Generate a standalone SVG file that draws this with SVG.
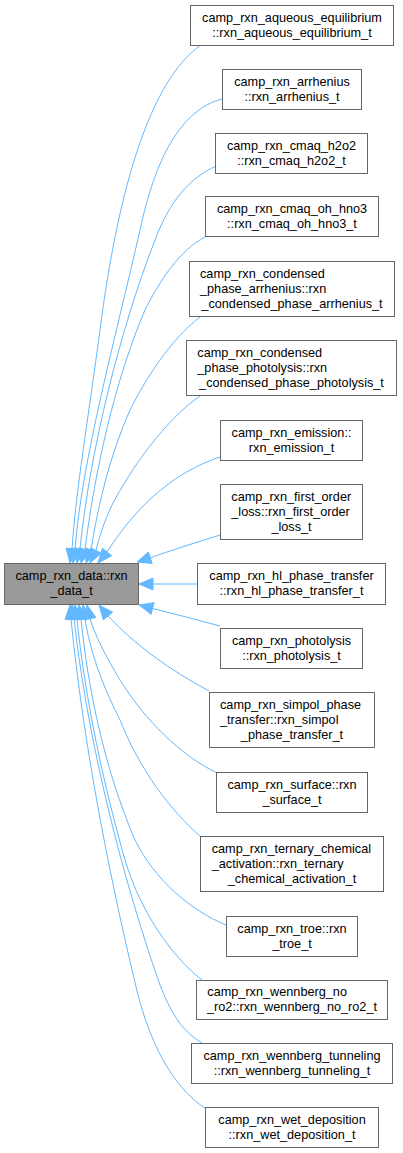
<svg xmlns="http://www.w3.org/2000/svg" width="403" height="1153" viewBox="0 0 403 1153">
<style>
.n rect{fill:#ffffff;stroke:#666666;stroke-width:1}
.n.main rect{fill:#999999}
.n text{font-family:"Liberation Sans",Arial,sans-serif;font-size:12.7px;fill:#000000}
.c{text-anchor:middle}
.e path{fill:none;stroke:#63b8ff;stroke-width:1}
.e polygon{fill:#63b8ff;stroke:#63b8ff;stroke-width:1}
</style>
<rect width="403" height="1153" fill="#ffffff"/>
<g id="edges" class="e">
<path d="M201,45 C150,80 118,190 100,330 C88,420 76,490 72,549"/>
<polygon points="70,563 77.9,549.8 66.1,548.2"/>
<path d="M222,99 C180,110 155,160 140,230 C115,340 82,460 75,549"/>
<polygon points="73,563 80.9,549.8 69.1,548.2"/>
<path d="M216,166 C190,178 170,200 155,240 C120,330 90,450 80,549"/>
<polygon points="77,563 85.9,550.3 74.1,547.7"/>
<path d="M205,237 C180,250 160,280 145,310 C115,380 95,470 85,549.5"/>
<polygon points="81,563 90.75,551.2 79.25,547.8"/>
<path d="M200,317 C170,340 145,380 130,410 C110,455 98,505 91,550"/>
<polygon points="86,563 96.6,552.15 85.4,547.85"/>
<path d="M200,396 C165,420 130,470 112,505 C104,522 99,538 96,550.5"/>
<polygon points="90,563 101.4,553.1 90.6,547.9"/>
<path d="M220,457 C180,470 140,500 107,552"/>
<polygon points="98,563 111.65,555.8 102.35,548.2"/>
<path d="M220,535 C195,543 172,550 150.3,557.7"/>
<polygon points="137,562 152.15,563.4 148.45,552"/>
<path d="M197,584 L153,584"/>
<polygon points="139,584 153,578 153,590"/>
<path d="M220,626 C198,620 175,614 152.6,608.5"/>
<polygon points="139,605 154.1,602.7 151.1,614.3"/>
<path d="M209,691 C170,670 135,645 108,616"/>
<polygon points="99,605 112.65,612.2 103.35,619.8"/>
<path d="M217,773 C180,755 145,720 120,680 C105,655 95,635 90,618.7"/>
<polygon points="87,605 95.9,617.4 84.1,620"/>
<path d="M201,837 C170,810 140,770 120,720 C100,680 90,650 85,619"/>
<polygon points="83,605 90.9,618.2 79.1,619.8"/>
<path d="M226,925 C190,910 155,880 135,840 C105,770 88,690 81,619"/>
<polygon points="79,605 86.9,618.2 75.1,619.8"/>
<path d="M202,980 C170,955 140,910 125,860 C105,790 85,700 77,619"/>
<polygon points="75,605 82.9,618.2 71.1,619.8"/>
<path d="M202,1043 C180,1030 170,1010 160,985 C130,900 90,760 74,619"/>
<polygon points="72,605 79.9,618.2 68.1,619.8"/>
<path d="M206,1109 C170,1085 150,1040 138,995 C115,900 85,760 71,619"/>
<polygon points="70,605 76.98,618.6 65.02,619.4"/>
</g>
<g id="node_aqueous" class="n"><rect x="190.5" y="5.5" width="203" height="40"/><text class="c" x="292" y="21.5">camp_rxn_aqueous_equilibrium</text><text class="c" x="292" y="36.5">::rxn_aqueous_equilibrium_t</text></g>
<g id="node_arrhenius" class="n"><rect x="222.5" y="69.5" width="139" height="40"/><text class="c" x="292" y="85.5">camp_rxn_arrhenius</text><text class="c" x="292" y="100.5">::rxn_arrhenius_t</text></g>
<g id="node_cmaq_h2o2" class="n"><rect x="215.5" y="133.5" width="152" height="40"/><text class="c" x="291.5" y="149.5">camp_rxn_cmaq_h2o2</text><text class="c" x="291.5" y="164.5">::rxn_cmaq_h2o2_t</text></g>
<g id="node_cmaq_oh_hno3" class="n"><rect x="205.5" y="196.5" width="173" height="40"/><text class="c" x="292" y="212.5">camp_rxn_cmaq_oh_hno3</text><text class="c" x="292" y="227.5">::rxn_cmaq_oh_hno3_t</text></g>
<g id="node_condensed_phase_arrhenius" class="n"><rect x="189.5" y="261.5" width="205" height="55"/><text x="200" y="277.5">camp_rxn_condensed</text><text x="200" y="292.5">_phase_arrhenius::rxn</text><text class="c" x="292" y="307.5">_condensed_phase_arrhenius_t</text></g>
<g id="node_condensed_phase_photolysis" class="n"><rect x="186.5" y="340.5" width="210" height="55"/><text x="197.3" y="356.5">camp_rxn_condensed</text><text x="197.3" y="371.5">_phase_photolysis::rxn</text><text class="c" x="291.5" y="386.5">_condensed_phase_photolysis_t</text></g>
<g id="node_emission" class="n"><rect x="220.5" y="420.5" width="142" height="40"/><text class="c" x="291.5" y="436.5">camp_rxn_emission::</text><text class="c" x="291.5" y="451.5">rxn_emission_t</text></g>
<g id="node_first_order_loss" class="n"><rect x="220.5" y="484.5" width="142" height="55"/><text x="231.3" y="500.5">camp_rxn_first_order</text><text x="231.3" y="515.5">_loss::rxn_first_order</text><text class="c" x="291.5" y="530.5">_loss_t</text></g>
<g id="node_rxn_data" class="n main"><rect x="4.5" y="563.5" width="134" height="41"/><text class="c" x="71.5" y="579.5">camp_rxn_data::rxn</text><text class="c" x="71.5" y="594.5">_data_t</text></g>
<g id="node_hl_phase_transfer" class="n"><rect x="197.5" y="563.5" width="188" height="41"/><text class="c" x="291.5" y="579.5">camp_rxn_hl_phase_transfer</text><text class="c" x="291.5" y="594.5">::rxn_hl_phase_transfer_t</text></g>
<g id="node_photolysis" class="n"><rect x="220.5" y="628.5" width="142" height="40"/><text class="c" x="291.5" y="644.5">camp_rxn_photolysis</text><text class="c" x="291.5" y="659.5">::rxn_photolysis_t</text></g>
<g id="node_simpol_phase_transfer" class="n"><rect x="209.5" y="692.5" width="165" height="55"/><text x="220" y="708.5">camp_rxn_simpol_phase</text><text x="220" y="723.5">_transfer::rxn_simpol</text><text class="c" x="292" y="738.5">_phase_transfer_t</text></g>
<g id="node_surface" class="n"><rect x="216.5" y="772.5" width="151" height="40"/><text class="c" x="292" y="788.5">camp_rxn_surface::rxn</text><text class="c" x="292" y="803.5">_surface_t</text></g>
<g id="node_ternary_chemical_activation" class="n"><rect x="200.5" y="836.5" width="183" height="55"/><text x="211.7" y="852.5">camp_rxn_ternary_chemical</text><text x="211.7" y="867.5">_activation::rxn_ternary</text><text class="c" x="292" y="882.5">_chemical_activation_t</text></g>
<g id="node_troe" class="n"><rect x="226.5" y="916.5" width="131" height="40"/><text class="c" x="292" y="932.5">camp_rxn_troe::rxn</text><text class="c" x="292" y="947.5">_troe_t</text></g>
<g id="node_wennberg_no_ro2" class="n"><rect x="196.5" y="980.5" width="191" height="39"/><text x="207.3" y="996">camp_rxn_wennberg_no</text><text class="c" x="292" y="1011">_ro2::rxn_wennberg_no_ro2_t</text></g>
<g id="node_wennberg_tunneling" class="n"><rect x="191.5" y="1043.5" width="201" height="40"/><text class="c" x="292" y="1059.5">camp_rxn_wennberg_tunneling</text><text class="c" x="292" y="1074.5">::rxn_wennberg_tunneling_t</text></g>
<g id="node_wet_deposition" class="n"><rect x="205.5" y="1107.5" width="173" height="40"/><text class="c" x="292" y="1123.5">camp_rxn_wet_deposition</text><text class="c" x="292" y="1138.5">::rxn_wet_deposition_t</text></g>
</svg>
